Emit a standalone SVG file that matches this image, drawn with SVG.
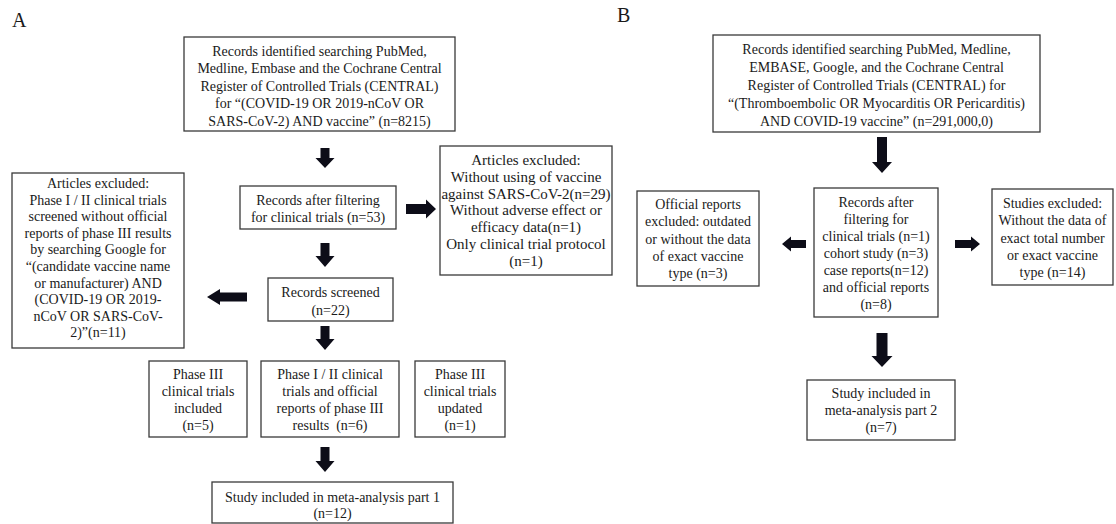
<svg xmlns="http://www.w3.org/2000/svg" width="1116" height="524" viewBox="0 0 1116 524">
<style>
.box{fill:#fff;stroke:#3a3a3a;stroke-width:1.3}
.t{font-family:"Liberation Serif","Times New Roman",serif;font-size:14px;fill:#1a1a1a;text-anchor:middle}
.big{font-size:15px}
.lbl{font-family:"Liberation Serif","Times New Roman",serif;font-size:20px;fill:#1a1a1a}
.arr{fill:#0d0d18;stroke:none}
</style>
<rect width="1116" height="524" fill="#fff"/>
<text class="lbl" x="12" y="27">A</text>
<text class="lbl" x="617" y="22">B</text>

<g id="connectors">
<polygon class="arr" points="320.5,148 329.5,148 329.5,158 334.5,158 325,168 315.5,158 320.5,158"/>
<polygon class="arr" points="320.5,243 329.5,243 329.5,256 334.5,256 325,267 315.5,256 320.5,256"/>
<polygon class="arr" points="320.5,326 329.5,326 329.5,339 334.5,339 325,350 315.5,339 320.5,339"/>
<polygon class="arr" points="320.5,447 329.5,447 329.5,461 334.5,461 325,472 315.5,461 320.5,461"/>
<polygon class="arr" points="406,204 426,204 426,199.5 436,209 426,218.5 426,214 406,214"/>
<polygon class="arr" points="247,292.5 220,292.5 220,289 207,297 220,305 220,301.5 247,301.5"/>
<polygon class="arr" points="877,137 887,137 887,162 892,162 882,173 872,162 877,162"/>
<polygon class="arr" points="876.5,333 887.5,333 887.5,356 892.5,356 882,367 871.5,356 876.5,356"/>
<polygon class="arr" points="955,240 971,240 971,236.5 980,244 971,251.5 971,248 955,248"/>
<polygon class="arr" points="806,240 791,240 791,236.5 782,244 791,251.5 791,248 806,248"/>
</g>

<g id="a-identified">
<rect class="box" x="184" y="37" width="271" height="94"/>
<text class="t"><tspan x="319.5" y="55.5">Records identified searching PubMed,</tspan><tspan x="319.5" y="73">Medline, Embase and the Cochrane Central</tspan><tspan x="319.5" y="90.5">Register of Controlled Trials (CENTRAL)</tspan><tspan x="319.5" y="108">for “(COVID-19 OR 2019-nCoV OR</tspan><tspan x="319.5" y="125.5">SARS-CoV-2) AND vaccine” (n=8215)</tspan></text>
</g>
<g id="a-filter">
<rect class="box" x="240" y="186" width="156" height="43"/>
<text class="t"><tspan x="318" y="205">Records after filtering</tspan><tspan x="318" y="222">for clinical trials (n=53)</tspan></text>
</g>
<g id="a-excluded-right">
<rect class="box" x="440" y="146" width="172" height="129"/>
<text class="t big"><tspan x="526" y="165">Articles excluded:</tspan><tspan x="526" y="181.8">Without using of vaccine</tspan><tspan x="526" y="198.6">against SARS-CoV-2(n=29)</tspan><tspan x="526" y="215.4">Without adverse effect or</tspan><tspan x="526" y="232.2">efficacy data(n=1)</tspan><tspan x="526" y="249">Only clinical trial protocol</tspan><tspan x="526" y="265.8">(n=1)</tspan></text>
</g>
<g id="a-excluded-left">
<rect class="box" x="12" y="173" width="172" height="175"/>
<text class="t"><tspan x="98" y="188">Articles excluded:</tspan><tspan x="98" y="204.6">Phase I / II clinical trials</tspan><tspan x="98" y="221.2">screened without official</tspan><tspan x="98" y="237.8">reports of phase III results</tspan><tspan x="98" y="254.4">by searching Google for</tspan><tspan x="98" y="271">“(candidate vaccine name</tspan><tspan x="98" y="287.6">or manufacturer) AND</tspan><tspan x="98" y="304.2">(COVID-19 OR 2019-</tspan><tspan x="98" y="320.8">nCoV OR SARS-CoV-</tspan><tspan x="98" y="337.4">2)”(n=11)</tspan></text>
</g>
<g id="a-screened">
<rect class="box" x="268" y="278" width="125" height="43"/>
<text class="t"><tspan x="330.5" y="297">Records screened</tspan><tspan x="330.5" y="315">(n=22)</tspan></text>
</g>
<g id="a-phase3-included">
<rect class="box" x="149" y="361" width="98" height="76"/>
<text class="t"><tspan x="198" y="379">Phase III</tspan><tspan x="198" y="396">clinical trials</tspan><tspan x="198" y="413">included</tspan><tspan x="198" y="430">(n=5)</tspan></text>
</g>
<g id="a-phase12">
<rect class="box" x="261" y="361" width="138" height="76"/>
<text class="t" xml:space="preserve"><tspan x="330" y="379">Phase I / II clinical</tspan><tspan x="330" y="396">trials and official</tspan><tspan x="330" y="413">reports of phase III</tspan><tspan x="330" y="430">results  (n=6)</tspan></text>
</g>
<g id="a-phase3-updated">
<rect class="box" x="415" y="361" width="90" height="76"/>
<text class="t"><tspan x="460" y="379">Phase III</tspan><tspan x="460" y="396">clinical trials</tspan><tspan x="460" y="413">updated</tspan><tspan x="460" y="430">(n=1)</tspan></text>
</g>
<g id="a-included">
<rect class="box" x="212" y="482" width="241" height="41"/>
<text class="t"><tspan x="332.5" y="502">Study included in meta-analysis part 1</tspan><tspan x="332.5" y="518">(n=12)</tspan></text>
</g>

<g id="b-identified">
<rect class="box" x="713" y="35" width="327" height="97"/>
<text class="t"><tspan x="876.5" y="53.5">Records identified searching PubMed, Medline,</tspan><tspan x="876.5" y="71.5">EMBASE, Google, and the Cochrane Central</tspan><tspan x="876.5" y="89.5">Register of Controlled Trials (CENTRAL) for</tspan><tspan x="876.5" y="107.5">“(Thromboembolic OR Myocarditis OR Pericarditis)</tspan><tspan x="876.5" y="125.5">AND COVID-19 vaccine” (n=291,000,0)</tspan></text>
</g>
<g id="b-official-excluded">
<rect class="box" x="637" y="191" width="122" height="95"/>
<text class="t"><tspan x="698" y="209">Official reports</tspan><tspan x="698" y="226.3">excluded: outdated</tspan><tspan x="698" y="243.5">or without the data</tspan><tspan x="698" y="260.8">of exact vaccine</tspan><tspan x="698" y="278">type (n=3)</tspan></text>
</g>
<g id="b-records">
<rect class="box" x="814" y="188" width="124" height="129"/>
<text class="t"><tspan x="876" y="207">Records after</tspan><tspan x="876" y="224">filtering for</tspan><tspan x="876" y="241">clinical trials (n=1)</tspan><tspan x="876" y="258">cohort study (n=3)</tspan><tspan x="876" y="275">case reports(n=12)</tspan><tspan x="876" y="292">and official reports</tspan><tspan x="876" y="309">(n=8)</tspan></text>
</g>
<g id="b-studies-excluded">
<rect class="box" x="992" y="189" width="121" height="96"/>
<text class="t"><tspan x="1052.5" y="208">Studies excluded:</tspan><tspan x="1052.5" y="225.3">Without the data of</tspan><tspan x="1052.5" y="242.5">exact total number</tspan><tspan x="1052.5" y="259.8">or exact vaccine</tspan><tspan x="1052.5" y="277">type (n=14)</tspan></text>
</g>
<g id="b-included">
<rect class="box" x="807" y="380" width="148" height="60"/>
<text class="t"><tspan x="881" y="398">Study included in</tspan><tspan x="881" y="415">meta-analysis part 2</tspan><tspan x="881" y="432">(n=7)</tspan></text>
</g>
</svg>
